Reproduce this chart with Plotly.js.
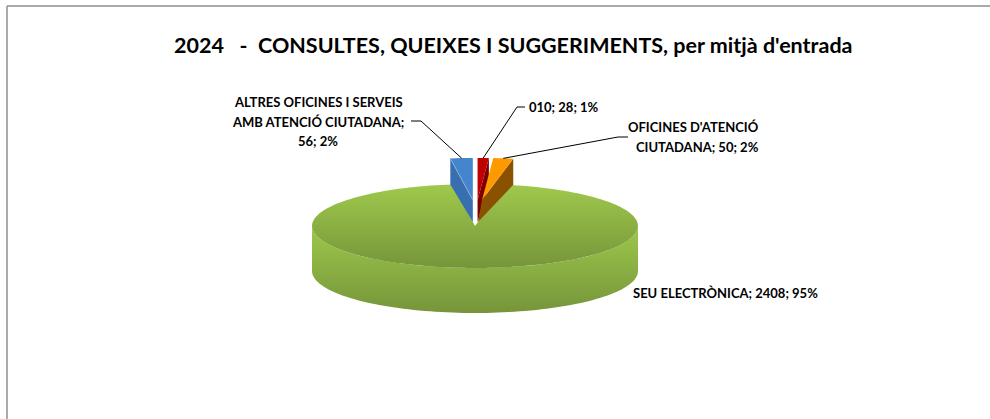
<!DOCTYPE html>
<html><head><meta charset="utf-8">
<script src="https://cdn.plot.ly/plotly-3.0.1.min.js"></script>
<style>html,body{margin:0;padding:0;background:#fff}#c{width:990px;height:419px}</style>
</head><body><div id="c"></div>
<script>
const titleText = "2024   -  CONSULTES, QUEIXES I SUGGERIMENTS, per mitjà d'entrada";
const categories = ["010", "OFICINES D'ATENCIÓ CIUTADANA", "SEU ELECTRÒNICA", "ALTRES OFICINES I SERVEIS AMB ATENCIÓ CIUTADANA"];
const values = [28, 50, 2408, 56];
const labelLines = [
  ["010; 28; 1%"],
  ["OFICINES D'ATENCIÓ", "CIUTADANA; 50; 2%"],
  ["SEU ELECTRÒNICA; 2408; 95%"],
  ["ALTRES OFICINES I SERVEIS", "AMB ATENCIÓ CIUTADANA;", "56; 2%"]
];
const topColors = ["#c00000", "#ff9900", null, "#4585cd"];
const wallColors = ["#7c0000", "#8a5200", null, "#386fb0"];

// pie geometry: tilted ellipse in page pixels
const W = 990, H = 419, cx = 475, cy = 226, rx = 163, ry = 42, depth = 45, smallDepth = 24;
const total = values.reduce((a, b) => a + b, 0);
const rad = d => d * Math.PI / 180;
const pt = (deg, ox = 0, oy = 0, dz = 0) => [cx + ox + rx * Math.sin(rad(deg)), cy + oy - ry * Math.cos(rad(deg)) + dz];
const arc = (a, b, ox = 0, oy = 0, dz = 0) => {
  const n = Math.max(2, Math.ceil(Math.abs(b - a) / 2)), out = [];
  for (let i = 0; i <= n; i++) out.push(pt(a + (b - a) * i / n, ox, oy, dz));
  return out;
};
const poly = (pts, extra) => Object.assign({
  type: 'scatter', mode: 'none', fill: 'toself', hoverinfo: 'skip', showlegend: false,
  x: pts.map(p => p[0]), y: pts.map(p => p[1])
}, extra);
const solid = c => ({ fillcolor: c });
const grad = (a, b) => ({ fillgradient: { type: 'vertical', colorscale: [[0, a], [1, b]] } });

// slice angles from the values
let run = 0;
const slices = values.map((v, i) => {
  const s = { i, a: run, b: run + v / total * 360 };
  run = s.b;
  s.mid = (s.a + s.b) / 2;
  const m = s.mid > 180 ? s.mid - 360 : s.mid;
  s.ox = 1 + 0.8 * m;   // explosion of the small slices
  s.oy = -26;
  return s;
});

const traces = [];
const big = slices[2];
// green wall then green top
traces.push(poly(arc(90, 270).concat(arc(270, 90, 0, 0, depth)), grad('#76953a', '#9dc84b')));
traces.push(poly([[cx, cy]].concat(arc(big.a, big.b)), grad('#76953a', '#9fc94c')));

// small slices: wall then top
[3, 0, 1].forEach(k => {
  const s = slices[k];
  const edge = k === 3 ? s.a : s.b;
  const apex = [cx + s.ox, cy + s.oy];
  const o = pt(edge, s.ox, s.oy);
  const wall = [apex, o, [o[0], o[1] + smallDepth + 2], [apex[0] - (k === 1 ? 4 : 0), apex[1] + smallDepth - 2]];
  traces.push(poly(wall, solid(wallColors[k])));
  traces.push(poly([apex].concat(arc(s.a, s.b, s.ox, s.oy)), solid(topColors[k])));
});
// light seam on the blue slice
{
  const s = slices[3];
  const o = pt(s.a, s.ox, s.oy);
  traces.push({ type: 'scatter', mode: 'lines', hoverinfo: 'skip', showlegend: false,
    x: [cx + s.ox, o[0]], y: [cy + s.oy, o[1]], line: { color: '#86aedd', width: 1 } });
}

// leader lines, anchored on the slices
const leader = (pts) => traces.push({ type: 'scatter', mode: 'lines', hoverinfo: 'skip', showlegend: false,
  x: pts.map(p => p[0]), y: pts.map(p => p[1]), line: { color: '#000', width: 1 } });
const anchor = s => pt(s.mid, s.ox, s.oy);
leader([anchor(slices[3]), [421, 121], [411, 121]]);
leader([anchor(slices[0]), [517, 107], [525, 107]]);
leader([anchor(slices[1]), [618, 137], [628, 137]]);

const lblFont = { family: 'Lato, Carlito, sans-serif', size: 13, color: '#000', weight: 700 };
const ann = (text, x, y, xanchor, align) => ({ text, x, y, xref: 'x', yref: 'y', xanchor, yanchor: 'middle',
  align, showarrow: false, font: lblFont, borderpad: 0 });
const lineStep = 19.5;
const annotations = [];
labelLines[3].forEach((t, i) => annotations.push(ann('<b>' + t + '</b>', 318, 102 + i * lineStep, 'center', 'center')));
annotations.push(ann('<b>' + labelLines[0][0] + '</b>', 528, 107, 'left', 'left'));
labelLines[1].forEach((t, i) => annotations.push(ann('<b>' + t + '</b>', 760, 127 + i * lineStep, 'right', 'right')));
annotations.push(ann('<b>' + labelLines[2][0] + '</b>', 632, 293, 'left', 'left'));
annotations.push({ text: '<b>' + titleText + '</b>', x: 513, y: 45, xref: 'x', yref: 'y', xanchor: 'center', yanchor: 'middle',
  showarrow: false, font: { family: 'Lato, Carlito, sans-serif', size: 21.5, color: '#000' } });

const axis = r => ({ range: r, visible: false, fixedrange: true, showgrid: false, zeroline: false });
const layout = {
  width: W, height: H, margin: { l: 0, r: 0, t: 0, b: 0 }, showlegend: false,
  paper_bgcolor: '#fff', plot_bgcolor: '#fff',
  xaxis: axis([0, W]), yaxis: axis([H, 0]), annotations,
  shapes: [
    { type: 'line', xref: 'x', yref: 'y', x0: 7, x1: 990, y0: 6, y1: 6, line: { color: '#8e8e8e', width: 1.5 } },
    { type: 'line', xref: 'x', yref: 'y', x0: 7, x1: 7, y0: 6, y1: 419, line: { color: '#8e8e8e', width: 1.5 } }
  ]
};
Plotly.newPlot('c', traces, layout, { displayModeBar: false, staticPlot: true });
</script></body></html>
